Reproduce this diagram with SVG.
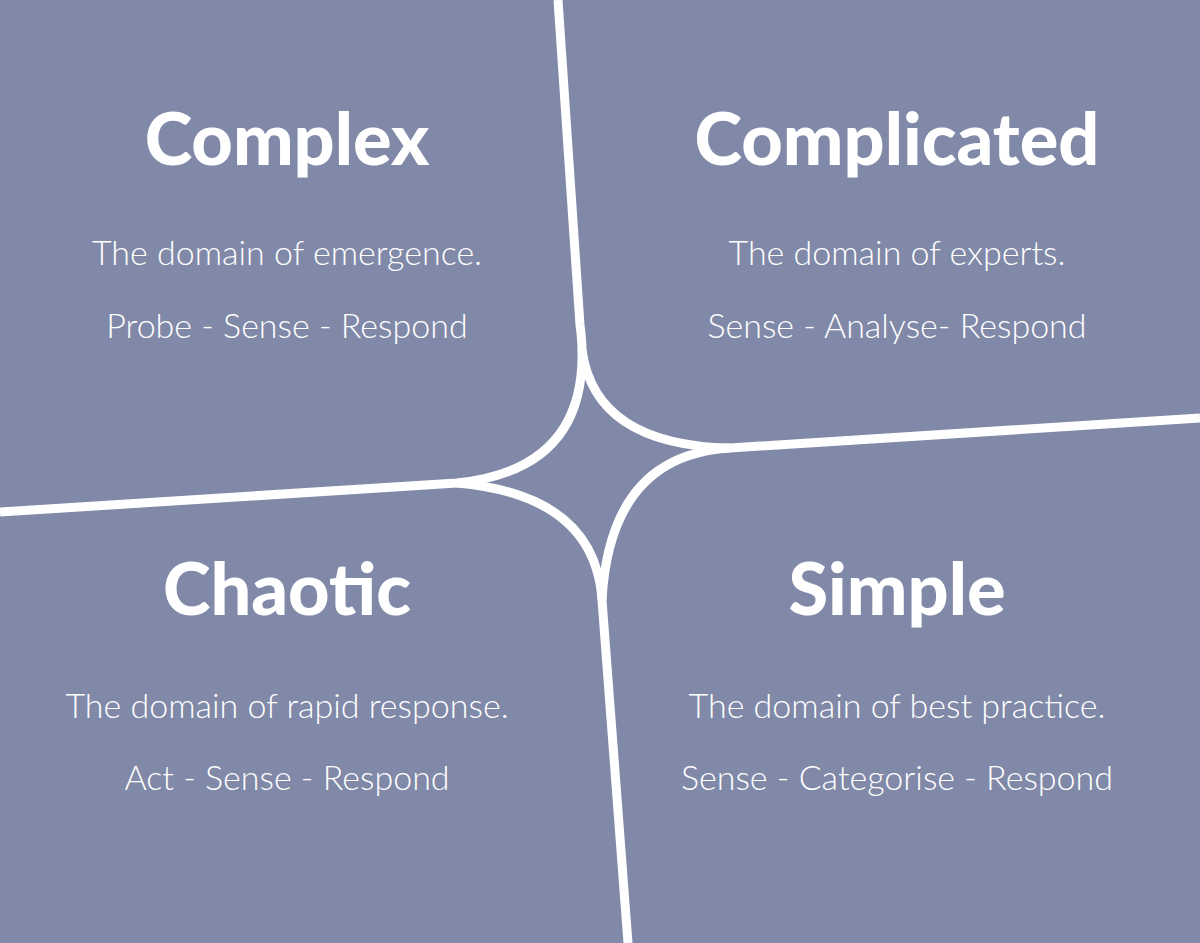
<svg xmlns="http://www.w3.org/2000/svg" width="1200" height="943" viewBox="0 0 1200 943">
<style>
.t{font-family:Lato,"Open Sans",sans-serif;font-weight:900;font-size:72px;fill:#fff;text-anchor:middle}
.s{font-family:Lato,"Open Sans",sans-serif;font-weight:300;font-size:34px;fill:#fff;text-anchor:middle}
.c{fill:none;stroke:#fff;stroke-width:9;stroke-linecap:butt}
</style>
<rect width="1200" height="943" fill="#8189a8"/>
<g id="connectors">
<path class="c" d="M558,0 L580,325 Q582,340 582,350 Q585,470 457,483 L0,512"/>
<path class="c" d="M582,350 Q595,445 730,448 L1200,418"/>
<path class="c" d="M457,483 Q595,495 602,600 L628,943"/>
<path class="c" d="M602,600 Q610,455 730,448"/>
</g>
<g id="complex"><text class="t" x="287" y="165">Complex</text><text class="s" x="287" y="265">The domain of emergence.</text><text class="s" x="287" y="338">Probe - Sense - Respond</text></g>
<g id="complicated"><text class="t" x="897" y="165">Complicated</text><text class="s" x="897" y="265">The domain of experts.</text><text class="s" x="897" y="338">Sense - Analyse- Respond</text></g>
<g id="chaotic"><text class="t" x="287" y="615">Chaotic</text><text class="s" x="287" y="718">The domain of rapid response.</text><text class="s" x="287" y="790">Act - Sense - Respond</text></g>
<g id="simple"><text class="t" x="897" y="615">Simple</text><text class="s" x="897" y="718">The domain of best practice.</text><text class="s" x="897" y="790">Sense - Categorise - Respond</text></g>
</svg>
